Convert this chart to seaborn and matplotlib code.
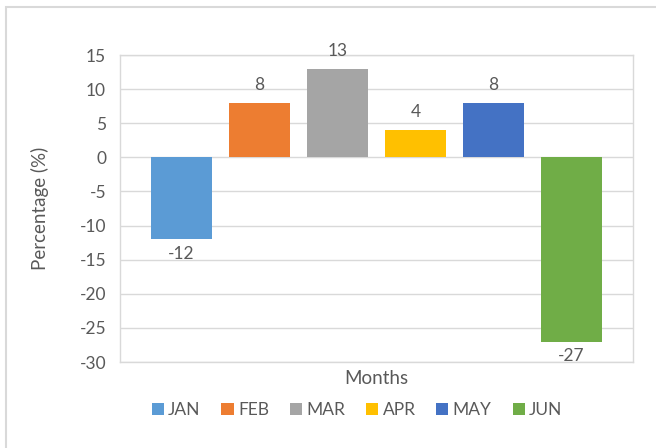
import matplotlib
matplotlib.use("Agg")
import matplotlib.pyplot as plt
from matplotlib.patches import Patch, Rectangle
import seaborn as sns

months = ["JAN", "FEB", "MAR", "APR", "MAY", "JUN"]
values = [-12, 8, 13, 4, 8, -27]
colors = ["#5B9BD5", "#ED7D31", "#A5A5A5", "#FFC000", "#4472C4", "#70AD47"]
yticks = [-30, -25, -20, -15, -10, -5, 0, 5, 10, 15]

sns.set_theme(style="white")
plt.rcParams['font.family'] = ['Lato', 'DejaVu Sans']
text_color = "#595959"
grid_color = "#D9D9D9"

fig = plt.figure(figsize=(6.56, 4.48), dpi=100)
ax = fig.add_axes([120/656, 1-362/448, (633-120)/656, (362-55)/448])

sns.barplot(x=months, y=values, hue=months, palette=colors, width=0.78,
            legend=False, ax=ax, saturation=1, linewidth=0, edgecolor='none')

ax.set_xlim(-0.79, 5.79)
ax.set_ylim(-30, 15)
ax.set_yticks(yticks)
ax.set_yticklabels([str(t) for t in yticks], color=text_color, fontsize=12.5)
ax.set_xticks([])
ax.tick_params(axis='y', length=0, pad=10)
ax.yaxis.grid(True, color=grid_color, linewidth=1)
ax.set_axisbelow(True)
for s in ax.spines.values():
    s.set_color(grid_color)
    s.set_linewidth(1)

ax.set_xlabel("Months", color=text_color, fontsize=13.5, labelpad=6)
ax.set_ylabel("Percentage (%)", color=text_color, fontsize=13.5)
ax.yaxis.set_label_coords((49-120)/513, 0.5)

for i, v in enumerate(values):
    if v >= 0:
        ax.annotate(str(v), (i, v), xytext=(0, 7), textcoords="offset points",
                    ha="center", va="bottom", color=text_color, fontsize=12.5)
    else:
        ax.annotate(str(v), (i, v), xytext=(0, -5), textcoords="offset points",
                    ha="center", va="top", color=text_color, fontsize=12.5)

handles = [Patch(facecolor=c, edgecolor='none') for c in colors]
fig.legend(handles, months, loc="center", bbox_to_anchor=(357/656, 1-410/448),
           ncol=6, frameon=False, fontsize=12.5, handlelength=0.7, handleheight=0.7,
           handletextpad=0.25, columnspacing=1.2, labelcolor=text_color)

fig.patches.append(Rectangle((6/656, -0.1), 1.2, 1.1 - 7/448, transform=fig.transFigure,
                             fill=False, edgecolor=grid_color, linewidth=1.5))

fig.savefig("out.png", dpi=100)
